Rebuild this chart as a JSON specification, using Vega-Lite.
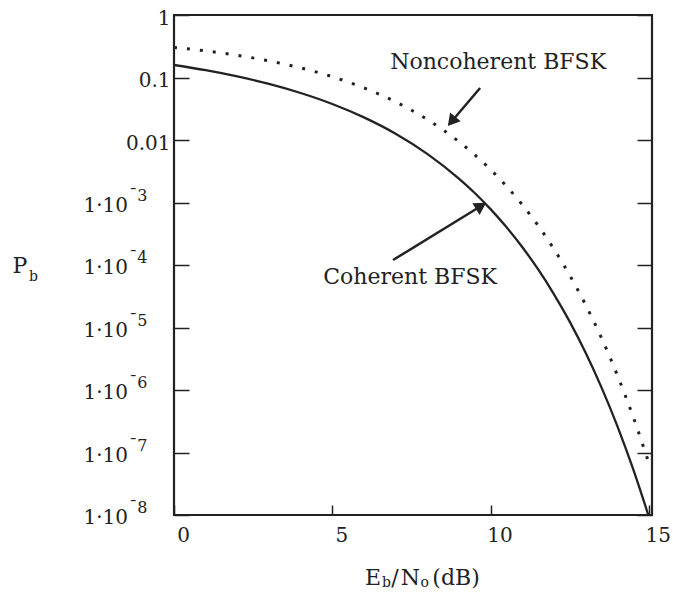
{
  "$schema": "https://vega.github.io/schema/vega-lite/v6.json",
  "autosize": {"type": "none"},
  "padding": {"left": 174, "top": 15, "right": 21, "bottom": 77},
  "width": 478,
  "height": 500,
  "background": "white",
  "config": {
    "view": {"stroke": "#222", "strokeWidth": 2.2},
    "axis": {"labelFont": "DejaVu Serif", "labelColor": "#222", "tickColor": "#222", "tickWidth": 1.5, "domain": false, "grid": false, "labelFontSize": 20, "labelFlush": false},
    "text": {"font": "DejaVu Serif", "color": "#222"}
  },
  "datasets": {
    "curves": [
      {"snr": 0, "pb": 0.1587, "series": "Coherent"},
      {"snr": 1, "pb": 0.1310, "series": "Coherent"},
      {"snr": 2, "pb": 0.1040, "series": "Coherent"},
      {"snr": 3, "pb": 0.0789, "series": "Coherent"},
      {"snr": 4, "pb": 0.0565, "series": "Coherent"},
      {"snr": 5, "pb": 0.0377, "series": "Coherent"},
      {"snr": 6, "pb": 0.0230, "series": "Coherent"},
      {"snr": 7, "pb": 0.0126, "series": "Coherent"},
      {"snr": 8, "pb": 0.0060, "series": "Coherent"},
      {"snr": 9, "pb": 0.00241, "series": "Coherent"},
      {"snr": 9.5, "pb": 0.00142, "series": "Coherent"},
      {"snr": 10, "pb": 0.000783, "series": "Coherent"},
      {"snr": 10.5, "pb": 0.000404, "series": "Coherent"},
      {"snr": 11, "pb": 0.000194, "series": "Coherent"},
      {"snr": 11.5, "pb": 0.0000856, "series": "Coherent"},
      {"snr": 12, "pb": 0.0000343, "series": "Coherent"},
      {"snr": 12.5, "pb": 0.0000124, "series": "Coherent"},
      {"snr": 13, "pb": 0.00000397, "series": "Coherent"},
      {"snr": 13.5, "pb": 0.00000111, "series": "Coherent"},
      {"snr": 14, "pb": 0.000000269, "series": "Coherent"},
      {"snr": 14.5, "pb": 0.000000055, "series": "Coherent"},
      {"snr": 15, "pb": 0.0000000094, "series": "Coherent"},
      {"snr": 0, "pb": 0.3033, "series": "Noncoherent"},
      {"snr": 1, "pb": 0.2664, "series": "Noncoherent"},
      {"snr": 2, "pb": 0.2264, "series": "Noncoherent"},
      {"snr": 3, "pb": 0.1844, "series": "Noncoherent"},
      {"snr": 4, "pb": 0.1424, "series": "Noncoherent"},
      {"snr": 5, "pb": 0.1029, "series": "Noncoherent"},
      {"snr": 6, "pb": 0.0683, "series": "Noncoherent"},
      {"snr": 7, "pb": 0.0408, "series": "Noncoherent"},
      {"snr": 8, "pb": 0.0213, "series": "Noncoherent"},
      {"snr": 9, "pb": 0.00942, "series": "Noncoherent"},
      {"snr": 9.5, "pb": 0.0058, "series": "Noncoherent"},
      {"snr": 10, "pb": 0.00337, "series": "Noncoherent"},
      {"snr": 10.5, "pb": 0.00183, "series": "Noncoherent"},
      {"snr": 11, "pb": 0.000923, "series": "Noncoherent"},
      {"snr": 11.5, "pb": 0.000428, "series": "Noncoherent"},
      {"snr": 12, "pb": 0.000181, "series": "Noncoherent"},
      {"snr": 12.5, "pb": 0.0000687, "series": "Noncoherent"},
      {"snr": 13, "pb": 0.0000232, "series": "Noncoherent"},
      {"snr": 13.5, "pb": 0.00000688, "series": "Noncoherent"},
      {"snr": 14, "pb": 0.00000175, "series": "Noncoherent"},
      {"snr": 14.5, "pb": 0.000000379, "series": "Noncoherent"},
      {"snr": 15, "pb": 0.0000000678, "series": "Noncoherent"}
    ],
    "arrows": [
      {"arrow": "Noncoherent", "x": 9.67, "y": 0.0679, "x2": 8.77, "y2": 0.0198},
      {"arrow": "Coherent", "x": 6.92, "y": 0.00012, "x2": 9.70, "y2": 0.00088}
    ],
    "powers": [
      {"exp": "¯3", "value": 0.001},
      {"exp": "¯4", "value": 0.0001},
      {"exp": "¯5", "value": 0.00001},
      {"exp": "¯6", "value": 0.000001},
      {"exp": "¯7", "value": 0.0000001},
      {"exp": "¯8", "value": 0.00000001}
    ],
    "notes": [
      {"t": "Noncoherent BFSK", "role": "main", "align": "center", "x": 10.24, "y": 0.177},
      {"t": "Coherent BFSK", "role": "main", "align": "center", "x": 7.46, "y": 0.0000645},
      {"t": "P", "role": "main", "align": "center", "x": -4.87, "y": 0.0000964},
      {"t": "b", "role": "sub", "align": "left", "x": -4.58, "y": 0.0000645},
      {"t": "E", "role": "main", "align": "left", "x": 6.03, "y": 0.000000000982},
      {"t": "b", "role": "sub", "align": "left", "x": 6.57, "y": 0.000000000817},
      {"t": "/", "role": "main", "align": "left", "x": 6.86, "y": 0.000000000982},
      {"t": "N", "role": "main", "align": "left", "x": 7.16, "y": 0.000000000982},
      {"t": "o", "role": "sub", "align": "left", "x": 7.79, "y": 0.000000000817},
      {"t": "(dB)", "role": "main", "align": "left", "x": 8.16, "y": 0.000000000982}
    ]
  },
  "layer": [
    {
      "data": {"name": "curves"},
      "transform": [{"filter": "datum.series == 'Coherent'"}],
      "mark": {"type": "line", "color": "#222", "strokeWidth": 2.3, "interpolate": "monotone", "clip": true},
      "encoding": {
        "x": {"field": "snr", "type": "quantitative", "scale": {"domain": [0, 15.1], "nice": false, "zero": false},
          "axis": {"title": null, "values": [0, 5, 10, 15], "tickSize": -10, "labelPadding": 20, "labelOffset": 9, "orient": "bottom"}},
        "y": {"field": "pb", "type": "quantitative", "scale": {"type": "log", "domain": [0.00000001, 1], "nice": false},
          "axis": {"title": null, "orient": "left", "values": [1, 0.1, 0.01, 0.001, 0.0001, 0.00001, 0.000001, 0.0000001, 0.00000001],
            "tickSize": -15, "labelOffset": 3, "labelPadding": 19,
            "labelExpr": "datum.value > 0.5 ? '1' : datum.value > 0.05 ? '0.1' : datum.value > 0.005 ? '0.01' : ''"}}
      }
    },
    {
      "data": {"name": "curves"},
      "transform": [{"filter": "datum.series == 'Noncoherent'"}],
      "mark": {"type": "line", "color": "#222", "strokeWidth": 3, "strokeDash": [3, 10], "interpolate": "monotone", "clip": true},
      "encoding": {
        "x": {"field": "snr", "type": "quantitative"},
        "y": {"field": "pb", "type": "quantitative",
          "axis": {"title": null, "orient": "right", "labels": false, "values": [1, 0.1, 0.01, 0.001, 0.0001, 0.00001, 0.000001, 0.0000001, 0.00000001], "tickSize": -15}}
      }
    },
    {
      "data": {"name": "arrows"},
      "mark": {"type": "rule", "color": "#222", "strokeWidth": 2.5},
      "encoding": {
        "x": {"field": "x", "type": "quantitative"},
        "y": {"field": "y", "type": "quantitative", "axis": null},
        "x2": {"field": "x2"},
        "y2": {"field": "y2"}
      }
    },
    {
      "data": {"name": "arrows"},
      "transform": [{"filter": "datum.arrow == 'Noncoherent'"}],
      "mark": {"type": "point", "shape": "triangle-up", "filled": true, "color": "#222", "size": 190, "angle": 219.4, "opacity": 1},
      "encoding": {
        "x": {"field": "x2", "type": "quantitative"},
        "y": {"field": "y2", "type": "quantitative", "axis": null}
      }
    },
    {
      "data": {"name": "arrows"},
      "transform": [{"filter": "datum.arrow == 'Coherent'"}],
      "mark": {"type": "point", "shape": "triangle-up", "filled": true, "color": "#222", "size": 190, "angle": 58.3, "opacity": 1},
      "encoding": {
        "x": {"field": "x2", "type": "quantitative"},
        "y": {"field": "y2", "type": "quantitative", "axis": null}
      }
    },
    {
      "data": {"name": "powers"},
      "mark": {"type": "text", "text": "1·10", "fontSize": 20, "align": "right", "baseline": "middle", "dy": 3},
      "encoding": {
        "x": {"datum": -1.453, "type": "quantitative"},
        "y": {"field": "value", "type": "quantitative", "axis": null}
      }
    },
    {
      "data": {"name": "powers"},
      "mark": {"type": "text", "fontSize": 16, "align": "left", "baseline": "middle", "dy": -7},
      "encoding": {
        "x": {"datum": -1.41, "type": "quantitative"},
        "y": {"field": "value", "type": "quantitative", "axis": null},
        "text": {"field": "exp"}
      }
    },
    {
      "data": {"name": "notes"},
      "transform": [{"filter": "datum.role == 'main' && datum.align == 'center'"}],
      "mark": {"type": "text", "fontSize": 22, "align": "center", "baseline": "middle"},
      "encoding": {
        "x": {"field": "x", "type": "quantitative"},
        "y": {"field": "y", "type": "quantitative", "axis": null},
        "text": {"field": "t"}
      }
    },
    {
      "data": {"name": "notes"},
      "transform": [{"filter": "datum.role == 'main' && datum.align == 'left'"}],
      "mark": {"type": "text", "fontSize": 22, "align": "left", "baseline": "middle"},
      "encoding": {
        "x": {"field": "x", "type": "quantitative"},
        "y": {"field": "y", "type": "quantitative", "axis": null},
        "text": {"field": "t"}
      }
    },
    {
      "data": {"name": "notes"},
      "transform": [{"filter": "datum.role == 'sub'"}],
      "mark": {"type": "text", "fontSize": 14, "align": "left", "baseline": "middle"},
      "encoding": {
        "x": {"field": "x", "type": "quantitative"},
        "y": {"field": "y", "type": "quantitative", "axis": null},
        "text": {"field": "t"}
      }
    }
  ],
  "resolve": {"axis": {"y": "independent"}}
}
